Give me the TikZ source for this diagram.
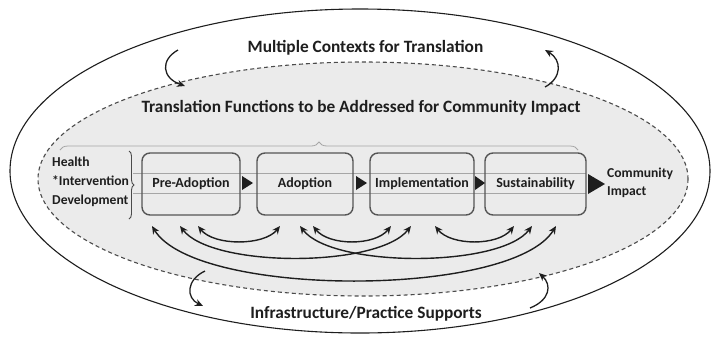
\documentclass[tikz,border=0pt]{standalone}
\usepackage{fontspec}
\setmainfont{Carlito}
\usetikzlibrary{arrows.meta,decorations.pathreplacing}
\definecolor{inner}{HTML}{EBEBEB}
\definecolor{boxline}{HTML}{555555}
\definecolor{ink}{HTML}{1E1E1E}
\tikzset{
  stagebox/.style={draw=boxline, line width=1.4bp, rounded corners=8bp, minimum width=#1, minimum height=62bp, inner sep=0pt},
  stagetext/.style={font=\fontsize{14bp}{16bp}\selectfont\bfseries, text=ink, inner sep=0pt},
  titletext/.style={font=\fontsize{17.3bp}{19bp}\selectfont\bfseries, text=ink, inner sep=0pt},
  sidetext/.style={font=\fontsize{13.6bp}{19bp}\selectfont\bfseries, text=ink, inner sep=0pt, align=left},
  link/.style={line width=1.4bp, draw=ink, {Stealth[length=8bp,width=7bp]}-{Stealth[length=8bp,width=7bp]}},
  cycle/.style={line width=1.3bp, draw=ink, -{Stealth[length=8bp,width=7bp]}},
  flowtip/.style={fill=ink, draw=none},
  guide/.style={draw=gray!70, line width=0.8bp},
}
\begin{document}
\begin{tikzpicture}[x=1bp,y=-1bp]
\useasboundingbox (0,0) rectangle (714,336);
% outer ellipse
\draw[line width=1.1bp, draw=ink] (360,171) ellipse [x radius=350, y radius=162];
% inner dashed ellipse
\draw[fill=inner, draw=ink!80, line width=1.1bp, dash pattern=on 4bp off 3bp] (363,179) ellipse [x radius=325, y radius=117];

% titles
\node[titletext] (ctx) at (365.5,48) {Multiple Contexts for Translation};
\node[titletext] (func) at (361,108) {Translation Functions to be Addressed for Community Impact};
\node[titletext] (infra) at (366,314) {Infrastructure/Practice Supports};

% top brace
\draw[guide, decorate, decoration={brace, amplitude=8bp}] (60,150) -- (578,150);

% horizontal guide lines
\draw[guide] (133,173) -- (586,173);
\draw[guide] (133,193) -- (586,193);

% boxes
\node[stagebox=98bp] (pre) at (191,184) {};
\node[stagebox=96bp] (ado) at (305,184) {};
\node[stagebox=104bp] (imp) at (422,184) {};
\node[stagebox=101bp] (sus) at (535.5,184) {};
\node[stagetext] (preT) at (191,184) {Pre-Adoption};
\node[stagetext] (adoT) at (305,184) {Adoption};
\node[stagetext] (impT) at (422,184) {Implementation};
\node[stagetext] (susT) at (535.5,184) {Sustainability};

% left text and brace
\node[sidetext, anchor=west] (health) at (52,182) {Health\\*Intervention\\Development};
\draw[ink!80, line width=0.9bp, decorate, decoration={brace, amplitude=5bp}] (129,151) -- (129,219);

% flow triangles
\fill[flowtip] (242,176) -- (253,183) -- (242,190) -- cycle;
\fill[flowtip] (356,176) -- (367,183) -- (356,190) -- cycle;
\fill[flowtip] (475,176) -- (485,183) -- (475,190) -- cycle;
\fill[flowtip] (588,174) -- (605,184) -- (588,194) -- cycle;

% community impact
\node[sidetext, anchor=west, font=\fontsize{13.6bp}{18bp}\selectfont\bfseries] (impact) at (607,183) {Community\\Impact};

% link endpoints
\coordinate (p1) at (152,226);
\coordinate (p2) at (180,226);
\coordinate (p3) at (198,226);
\coordinate (a1) at (280,226);
\coordinate (a2) at (300,226);
\coordinate (a3) at (313,226);
\coordinate (i1) at (391,226);
\coordinate (i2) at (411,226);
\coordinate (i3) at (435,226);
\coordinate (s1) at (514,226);
\coordinate (s2) at (532,226);
\coordinate (s3) at (556,226);

\draw[link] (p3) .. controls (214,246) and (264,246) .. (a1);
\draw[link] (a3) .. controls (329,246) and (375,246) .. (i1);
\draw[link] (i3) .. controls (451,246) and (498,246) .. (s1);
\draw[link] (p2) .. controls (212,268) and (378,268) .. (i2);
\draw[link] (a2) .. controls (332,268) and (500,268) .. (s2);
\draw[link] (p1) .. controls (196,298) and (512,298) .. (s3);

% context cycle arrows
\coordinate (tl0) at (178,50);
\coordinate (tl1) at (185,86);
\coordinate (tr0) at (545,87);
\coordinate (tr1) at (545,50);
\coordinate (bl0) at (205,271);
\coordinate (bl1) at (203,306);
\coordinate (br0) at (530,308);
\coordinate (br1) at (539,273);
\draw[cycle] (tl0) .. controls (160,60) and (162,78) .. (tl1);
\draw[cycle] (tr0) .. controls (562,78) and (562,60) .. (tr1);
\draw[cycle] (bl0) .. controls (186,280) and (186,298) .. (bl1);
\draw[cycle] (br0) .. controls (550,300) and (552,285) .. (br1);
\end{tikzpicture}
\end{document}
